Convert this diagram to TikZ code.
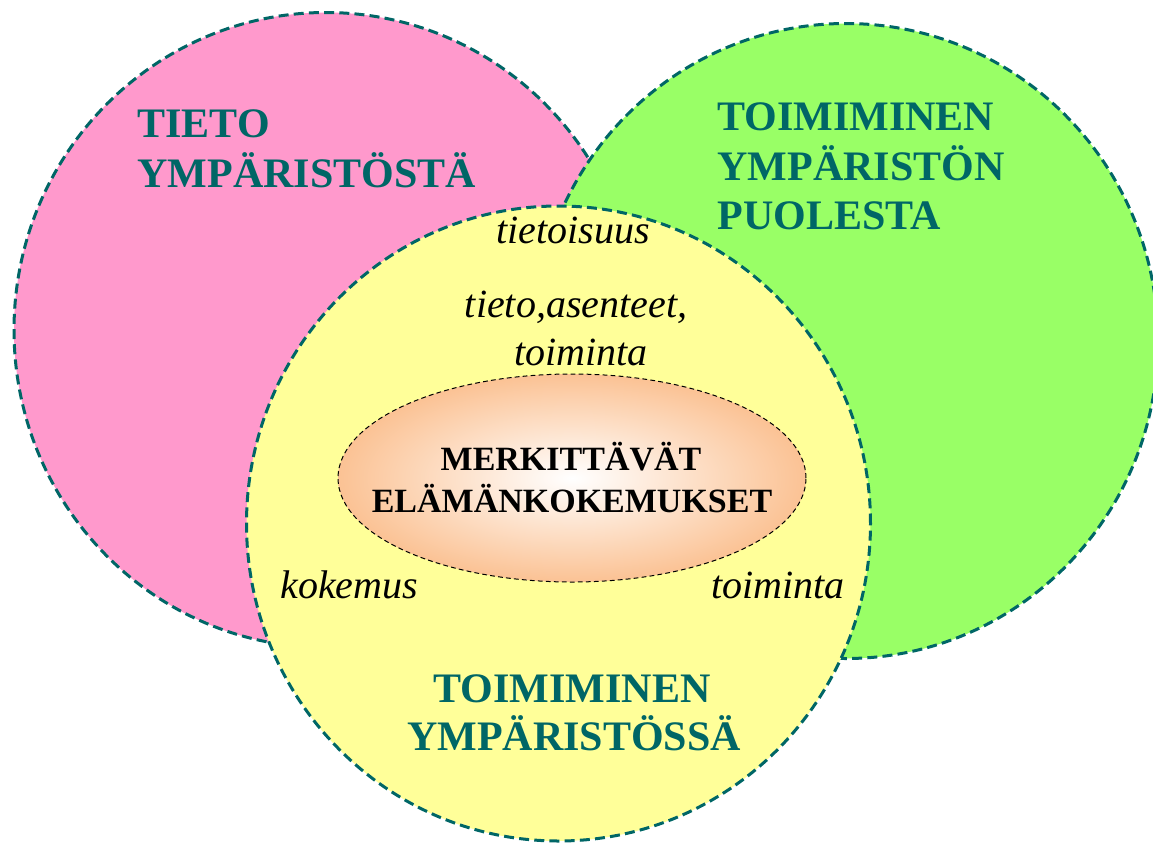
\documentclass[tikz,border=0pt]{standalone}
\usepackage{fontspec}
\setmainfont{Liberation Serif}
\usetikzlibrary{shapes.geometric}
\definecolor{pinkc}{HTML}{FF99CC}
\definecolor{greenc}{HTML}{99FF66}
\definecolor{yellowc}{HTML}{FFFF99}
\definecolor{tealc}{HTML}{006666}
\definecolor{peach}{HTML}{FBC294}
\tikzset{
  bigcircle/.style={ellipse, inner sep=0pt, minimum width=312pt, minimum height=317.5pt, draw=tealc, line width=1.5pt, dash pattern=on 5pt off 2.6pt},
  core/.style={ellipse, inner sep=0pt, minimum width=234pt, minimum height=104pt, draw=black, line width=0.5pt, dash pattern=on 2.4pt off 1.6pt, inner color=white, outer color=peach},
  head/.style={inner sep=0pt, text=tealc, font=\fontsize{21}{25}\selectfont\bfseries},
  kw/.style={inner sep=0pt, text=black, font=\fontsize{20}{24}\selectfont\itshape},
  coretext/.style={inner sep=0pt, text=black, font=\fontsize{17}{21}\selectfont\bfseries}
}
\begin{document}
\begin{tikzpicture}[x=0.5pt, y=-0.5pt]
\useasboundingbox (0,0) rectangle (1153,842);
\node[bigcircle, fill=pinkc] (pink) at (326,330) {};
\node[bigcircle, fill=greenc] (green) at (846,341) {};
\node[bigcircle, fill=yellowc] (yellow) at (558.5,523.5) {};
\node[core] (core) at (572,478) {};
% pink texts
\node[head, anchor=base west] (p1) at (137,137) {TIETO};
\node[head, anchor=base west] (p2) at (137,187) {YMPÄRISTÖSTÄ};
% green texts
\node[head, anchor=base west] (g1) at (717,130) {TOIMIMINEN};
\node[head, anchor=base west] (g2) at (717,180) {YMPÄRISTÖN};
\node[head, anchor=base west] (g3) at (717,229) {PUOLESTA};
% yellow texts
\node[head, anchor=base] (y1) at (572,702) {TOIMIMINEN};
\node[head, anchor=base] (y2) at (574,750) {YMPÄRISTÖSSÄ};
\node[kw, anchor=base] (k1) at (573,243) {tietoisuus};
\node[kw, anchor=base] (k2) at (576,317) {tieto,asenteet,};
\node[kw, anchor=base] (k3) at (581,365) {toiminta};
\node[kw, anchor=base west] (k4) at (280,598) {kokemus};
\node[kw, anchor=base east] (k5) at (845,598) {toiminta};
% core texts
\node[coretext, anchor=base] (c1) at (571,470) {MERKITTÄVÄT};
\node[coretext, anchor=base] (c2) at (572,512) {ELÄMÄNKOKEMUKSET};
\end{tikzpicture}
\end{document}
